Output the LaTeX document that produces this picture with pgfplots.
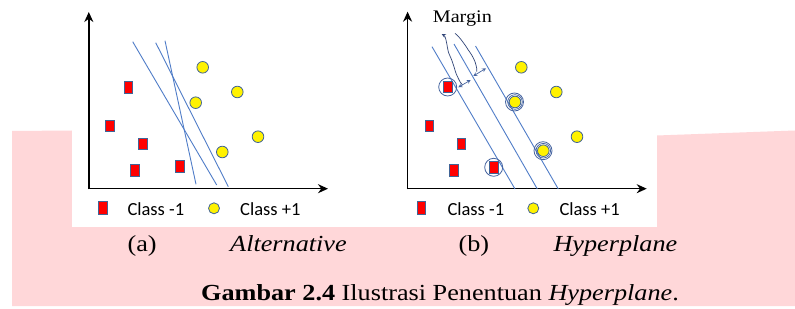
\documentclass[border=0pt]{standalone}
\usepackage{pgfplots}
\pgfplotsset{compat=1.18}
\usepackage{fontspec}
\setmainfont{Liberation Serif}[FakeStretch=1.14]
\newfontfamily\calibri{Carlito}
\usetikzlibrary{arrows.meta}
\definecolor{pinkbg}{RGB}{255,215,217}
\definecolor{lineblue}{RGB}{80,125,200}
\definecolor{edgeblue}{RGB}{65,100,150}
\definecolor{ringblue}{RGB}{70,100,160}
\definecolor{scribble}{RGB}{50,70,120}
\begin{document}
\begin{tikzpicture}
\begin{axis}[
  width=795pt, height=306pt, scale only axis,
  xmin=0, xmax=795, ymin=0, ymax=306, y dir=reverse,
  hide axis, clip=false,
  every node/.append style={inner sep=0pt, outer sep=0pt},
]
% backgrounds
\fill[white] (axis cs:0,0) rectangle (axis cs:795,306);
\fill[pinkbg] (axis cs:12,131) -- (axis cs:72,130.5) -- (axis cs:656.7,135.5) -- (axis cs:795,130.5) -- (axis cs:795,306) -- (axis cs:12,306) -- cycle;
\fill[white] (axis cs:72,0) rectangle (axis cs:656.7,227.3);

% axes of panels
\addplot[no markers, black, line width=1.6pt, -{Stealth[length=10pt,width=9pt]}] coordinates {(88.8,189.5) (88.8,12)};
\addplot[no markers, black, line width=1.6pt, -{Stealth[length=10pt,width=9pt]}] coordinates {(88,188.7) (328,188.7)};
\addplot[no markers, black, line width=1.6pt, -{Stealth[length=10pt,width=9pt]}] coordinates {(407.6,189.5) (407.6,11.7)};
\addplot[no markers, black, line width=1.6pt, -{Stealth[length=10pt,width=9pt]}] coordinates {(406.8,188.7) (646.7,188.7)};

% panel (a) hyperplanes
\addplot[no markers, lineblue, line width=0.9pt] coordinates {(132.7,41.7) (216.7,185)};
\addplot[no markers, lineblue, line width=0.9pt] coordinates {(155.7,42.7) (228.3,186.7)};
\addplot[no markers, lineblue, line width=0.9pt] coordinates {(165,40.7) (196,184.3)};

% panel (b) hyperplane and margins
\addplot[no markers, lineblue, line width=0.9pt] coordinates {(432,46.7) (515,189)};
\addplot[no markers, lineblue, line width=0.9pt] coordinates {(454,44) (537.3,189)};
\addplot[no markers, lineblue, line width=0.9pt] coordinates {(475.5,46) (558.3,189)};

% margin scribbles
\addplot[no markers, scribble, line width=0.7pt, smooth, -{Stealth[length=4pt,width=4pt,open]}] coordinates {(462.7,85) (460,81.7) (456,73.3) (454,66.7) (451.7,60) (448.3,51.7) (446.7,43.3) (445,36.7) (441.7,34)};
\addplot[no markers, scribble, line width=0.7pt, smooth] coordinates {(476.7,71.7) (476.7,68.3) (475,61.7) (471.7,55) (468.3,50) (465,45) (460,38.3) (455,33.3)};
\addplot[no markers, ringblue, line width=0.7pt, {Stealth[length=4pt,width=4pt,open]}-{Stealth[length=4pt,width=4pt,open]}] coordinates {(458.3,87.3) (470.7,80)};
\addplot[no markers, ringblue, line width=0.7pt, {Stealth[length=4pt,width=4pt,open]}-{Stealth[length=4pt,width=4pt,open]}] coordinates {(473.3,76) (486,68.3)};

% Class -1 (red squares)
\addplot[only marks, mark=square*, mark size=5.8pt, mark options={xscale=0.74, fill=red, draw=edgeblue, line width=0.8pt}] coordinates {
(128.3,87.3) (110,126) (142.7,144) (135,170.7) (180,166.7)};
\addplot[only marks, mark=square*, mark size=5.8pt, mark options={xscale=0.74, fill=red, draw=edgeblue, line width=0.8pt}] coordinates {
(447.7,87) (429.3,126) (461.3,144) (454,170.7) (493.7,167.3)};

% Class +1 (yellow circles)
\addplot[only marks, mark=*, mark size=5.8pt, mark options={fill=yellow, draw=edgeblue, line width=0.8pt}] coordinates {
(202.7,67.3) (237.3,92) (195.7,102.7) (258,136.7) (222.3,152)};
\addplot[only marks, mark=*, mark size=5.8pt, mark options={fill=yellow, draw=edgeblue, line width=0.8pt}] coordinates {
(521.3,67.3) (556.3,92) (515,102) (577,136.7) (543.3,150.7)};

% support vector rings
\addplot[only marks, mark=o, mark size=9pt, mark options={draw=ringblue, line width=0.8pt}] coordinates {
(447.7,87) (493.7,167.3) (514.5,102) (543,150.7)};
\addplot[only marks, mark=o, mark size=7.3pt, mark options={draw=ringblue, line width=0.7pt}] coordinates {
(515,102) (543.3,150.7)};

% legend markers
\addplot[only marks, mark=square*, mark size=6.5pt, mark options={xscale=0.65, fill=red, draw=edgeblue, line width=0.8pt}] coordinates {(102.7,208.3) (421.5,208.3)};
\addplot[only marks, mark=*, mark size=5.5pt, mark options={fill=yellow, draw=edgeblue, line width=0.8pt}] coordinates {(214,208.3) (533.3,208.3)};

% legend texts
\node[anchor=base west, font=\calibri\fontsize{18.5}{22}\selectfont] at (axis cs:124,215.7) {Class -1};
\node[anchor=base west, font=\calibri\fontsize{18.5}{22}\selectfont] at (axis cs:236.7,215.7) {Class +1};
\node[anchor=base west, font=\calibri\fontsize{18.5}{22}\selectfont] at (axis cs:444,215.7) {Class -1};
\node[anchor=base west, font=\calibri\fontsize{18.5}{22}\selectfont] at (axis cs:556,215.7) {Class +1};

% Margin label
\node[anchor=base west, font=\fontsize{17.7}{21}\selectfont] at (axis cs:429.3,22.7) {Margin};

% captions
\node[anchor=base west, font=\fontsize{23}{27}\selectfont] at (axis cs:124,251.7) {(a)};
\node[anchor=base west, font=\fontsize{23}{27}\selectfont\itshape] at (axis cs:226.7,251.7) {Alternative};
\node[anchor=base west, font=\fontsize{23}{27}\selectfont] at (axis cs:455,251.7) {(b)};
\node[anchor=base west, font=\fontsize{23}{27}\selectfont\itshape] at (axis cs:550,251.7) {Hyperplane};
\node[anchor=base, font=\fontsize{23}{27}\selectfont] at (axis cs:440,300.5) {\textbf{Gambar 2.4} Ilustrasi Penentuan \textit{Hyperplane}.};
\end{axis}
\end{tikzpicture}
\end{document}
